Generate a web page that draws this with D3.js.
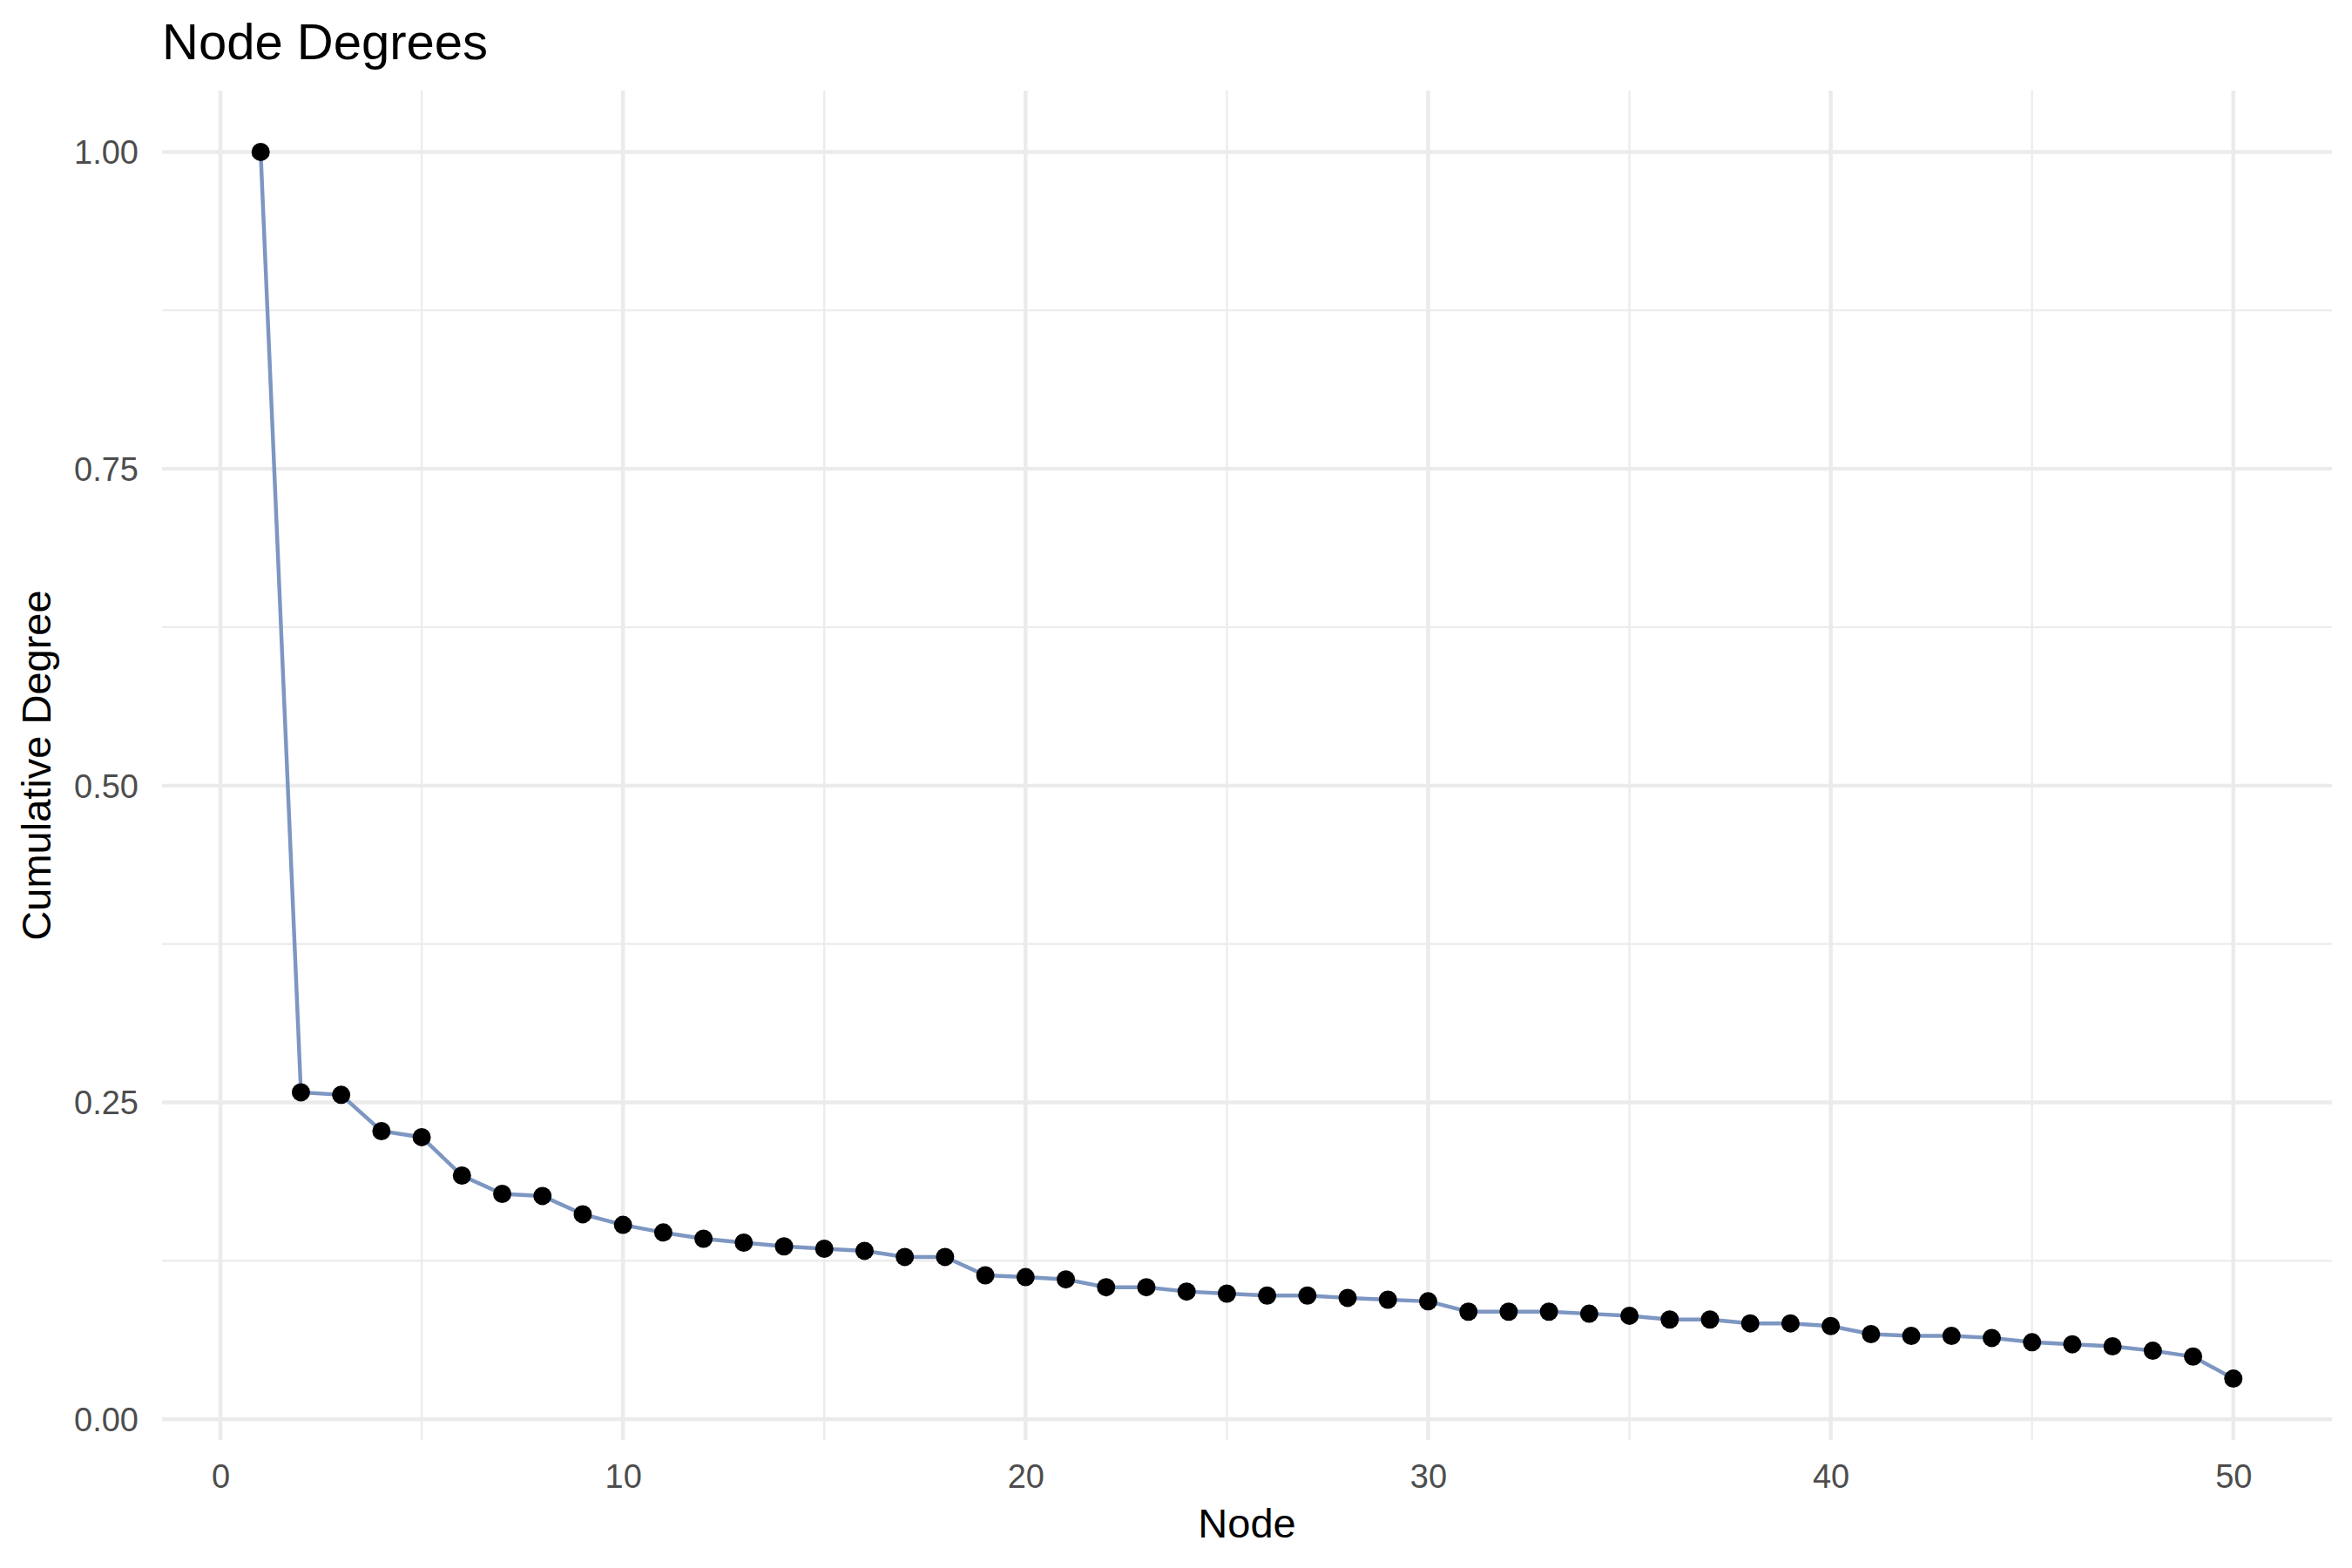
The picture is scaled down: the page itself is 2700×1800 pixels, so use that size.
<!DOCTYPE html>
<script src="https://d3js.org/d3.v7.min.js"></script>
<style>
body { margin: 0; background: white; }
text { font-family: "Liberation Sans", Arial, sans-serif; }
</style>
<html><body>
<svg class="chart"></svg>
<script>
var width = 2700;
var height = 1800;

// panel box (ggplot theme_minimal look)
var panelLeft = 186, panelRight = 2677, panelTop = 104, panelBottom = 1653;

var nodes = d3.range(1, 51);
var degree = [1.0, 0.258, 0.256, 0.2274, 0.2226, 0.1923, 0.1779, 0.1762, 0.1618, 0.1534,
              0.1474, 0.1425, 0.1394, 0.1365, 0.1346, 0.1329, 0.1281, 0.1281, 0.1136, 0.1122,
              0.1104, 0.1042, 0.1042, 0.1008, 0.0992, 0.0976, 0.0976, 0.0958, 0.0944, 0.0931,
              0.0849, 0.0849, 0.0849, 0.0833, 0.0817, 0.0787, 0.0787, 0.0757, 0.0757, 0.0736,
              0.0672, 0.0658, 0.0658, 0.0642, 0.0608, 0.0592, 0.0576, 0.0541, 0.0495, 0.0321];

var xTicks = [0, 10, 20, 30, 40, 50];
var xMinor = [5, 15, 25, 35, 45];
var yTicks = [0, 0.25, 0.5, 0.75, 1.0];
var yMinor = [0.125, 0.375, 0.625, 0.875];

// ggplot-style 5% expansion
var xr = d3.extent(nodes), yr = d3.extent(degree);
var xpad = (xr[1] - xr[0]) * 0.05, ypad = (yr[1] - yr[0]) * 0.05;

var x = d3.scaleLinear()
    .domain([xr[0] - xpad, xr[1] + xpad])
    .range([panelLeft, panelRight]);

var y = d3.scaleLinear()
    .domain([yr[0] - ypad, yr[1] + ypad])
    .range([panelBottom, panelTop]);

var chart = d3.select(".chart")
    .attr("width", width)
    .attr("height", height);

chart.append("rect").attr("width", width).attr("height", height).attr("fill", "white");

// minor grid
chart.append("g").selectAll("line")
    .data(xMinor)
    .enter().append("line")
    .attr("x1", function(d) { return x(d); })
    .attr("x2", function(d) { return x(d); })
    .attr("y1", panelTop).attr("y2", panelBottom)
    .attr("stroke", "#ebebeb").attr("stroke-width", 2.2);

chart.append("g").selectAll("line")
    .data(yMinor)
    .enter().append("line")
    .attr("y1", function(d) { return y(d); })
    .attr("y2", function(d) { return y(d); })
    .attr("x1", panelLeft).attr("x2", panelRight)
    .attr("stroke", "#ebebeb").attr("stroke-width", 2.2);

// major grid
chart.append("g").selectAll("line")
    .data(xTicks)
    .enter().append("line")
    .attr("x1", function(d) { return x(d); })
    .attr("x2", function(d) { return x(d); })
    .attr("y1", panelTop).attr("y2", panelBottom)
    .attr("stroke", "#ebebeb").attr("stroke-width", 4.45);

chart.append("g").selectAll("line")
    .data(yTicks)
    .enter().append("line")
    .attr("y1", function(d) { return y(d); })
    .attr("y2", function(d) { return y(d); })
    .attr("x1", panelLeft).attr("x2", panelRight)
    .attr("stroke", "#ebebeb").attr("stroke-width", 4.45);

// axes: labels only, no domain line or ticks
var xAxis = chart.append("g")
    .attr("transform", "translate(0," + panelBottom + ")")
    .call(d3.axisBottom(x).tickValues(xTicks).tickSize(0).tickPadding(0).tickFormat(d3.format("d")));
xAxis.select(".domain").remove();
xAxis.selectAll("text")
    .attr("dy", null).attr("y", 55)
    .attr("font-size", 38).attr("fill", "#4d4d4d")
    .style("font-family", "Liberation Sans, Arial, sans-serif");

var yAxis = chart.append("g")
    .attr("transform", "translate(" + panelLeft + ",0)")
    .call(d3.axisLeft(y).tickValues(yTicks).tickSize(0).tickFormat(d3.format(".2f")));
yAxis.select(".domain").remove();
yAxis.selectAll("text")
    .attr("x", -27).attr("dy", "0.35em")
    .attr("font-size", 38).attr("fill", "#4d4d4d")
    .style("font-family", "Liberation Sans, Arial, sans-serif");

// line + points
var line = d3.line()
    .x(function(d, i) { return x(nodes[i]); })
    .y(function(d) { return y(d); });

chart.append("path")
    .datum(degree)
    .attr("d", line)
    .attr("fill", "none")
    .attr("stroke", "#7d96c2")
    .attr("stroke-width", 4.45);

chart.append("g").selectAll("circle")
    .data(degree)
    .enter().append("circle")
    .attr("cx", function(d, i) { return x(nodes[i]); })
    .attr("cy", function(d) { return y(d); })
    .attr("r", 10.5)
    .attr("fill", "black");

// titles
chart.append("text")
    .attr("x", panelLeft).attr("y", 68)
    .attr("font-size", 58)
    .text("Node Degrees");

chart.append("text")
    .attr("x", (panelLeft + panelRight) / 2).attr("y", 1765)
    .attr("text-anchor", "middle")
    .attr("font-size", 47)
    .text("Node");

chart.append("text")
    .attr("transform", "translate(58," + ((panelTop + panelBottom) / 2) + ") rotate(-90)")
    .attr("text-anchor", "middle")
    .attr("font-size", 47)
    .text("Cumulative Degree");
</script>
</body></html>
